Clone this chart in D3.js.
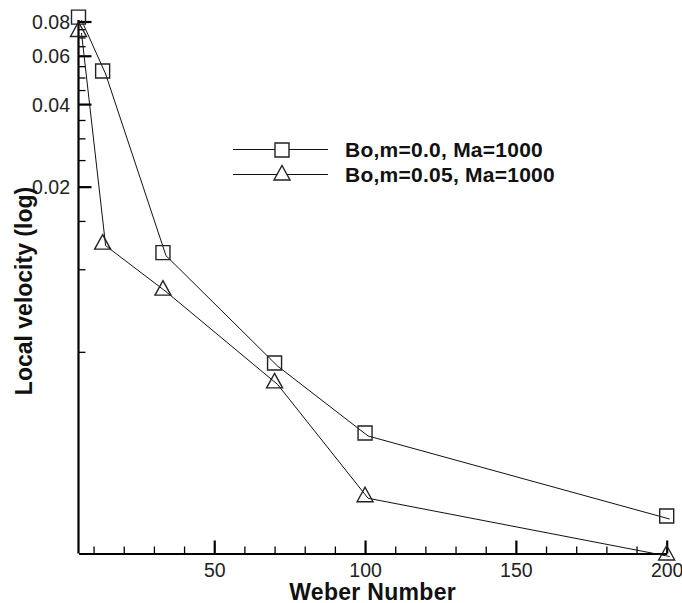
<!DOCTYPE html>
<html>
<head>
<meta charset="utf-8">
<script src="https://cdn.jsdelivr.net/npm/d3@7"></script>
<style>
  html, body { margin: 0; padding: 0; background: #fff; }
  svg { display: block; }
  text { font-family: "Liberation Sans", Arial, Helvetica, sans-serif; }
</style>
</head>
<body>
<svg id="chart" width="682" height="603"></svg>
<script>
// Weber number of each run
const weber = [5, 13, 33, 70, 100, 200];
// Local velocity for the two Bond-number cases
const velBo0 = [0.083, 0.0528, 0.0115, 0.00455, 0.00253, 0.00126];
const velBo005 = [0.0745, 0.0125, 0.0085, 0.0039, 0.0015, 0.00092];
const seriesNames = ["Bo,m=0.0, Ma=1000", "Bo,m=0.05, Ma=1000"];
const seriesShapes = ["square", "triangle"];

// Axis ticks
const xMajorTicks = [50, 100, 150, 200];
const xMinorTicks = [10, 20, 30, 40, 60, 70, 80, 90, 110, 120, 130, 140, 160, 170, 180, 190];
const yMajorTicks = [0.02, 0.04, 0.06, 0.08];
const yMinorTicks = [0.005, 0.01, 0.015, 0.025, 0.03, 0.035, 0.045, 0.05, 0.055, 0.065, 0.07, 0.075];

const xTitle = "Weber Number";
const yTitle = "Local velocity (log)";

const svg = d3.select("#chart");
svg.append("rect").attr("width", 682).attr("height", 603).attr("fill", "#fff");

const x = d3.scaleLinear().domain([5, 200]).range([78.5, 666.7]);
const y = d3.scaleLog().domain([0.00092, 0.08]).range([553.5, 21.5]);
const baseY = 553.5, baseX = 78.5;

const series = [
  { name: seriesNames[0], shape: seriesShapes[0], values: velBo0 },
  { name: seriesNames[1], shape: seriesShapes[1], values: velBo005 }
];

function markerPath(shape) {
  if (shape === "square") return "M-7,-7H7V7H-7Z";
  return "M0,-8L8,6.5H-8Z";
}

// ---- axes (ticks point inward) ----
const xMinor = svg.append("g").attr("transform", `translate(0,${baseY})`)
  .call(d3.axisBottom(x).tickValues(xMinorTicks).tickSize(-7).tickSizeOuter(0).tickFormat(""));
const xMajor = svg.append("g").attr("transform", `translate(0,${baseY})`)
  .call(d3.axisBottom(x).tickValues(xMajorTicks).tickSize(-13).tickSizeOuter(0).tickPadding(9.5).tickFormat(d3.format("d")));

const yMinor = svg.append("g").attr("transform", `translate(${baseX},0)`)
  .call(d3.axisLeft(y).tickValues(yMinorTicks).tickSize(-7).tickSizeOuter(0).tickFormat(""));
const yMajor = svg.append("g").attr("transform", `translate(${baseX},0)`)
  .call(d3.axisLeft(y).tickValues(yMajorTicks).tickSize(-13).tickSizeOuter(0).tickPadding(8.5).tickFormat(d3.format(".2f")));

[xMinor, yMinor].forEach(g => {
  g.select(".domain").remove();
  g.selectAll(".tick line").attr("stroke", "#000").attr("stroke-width", 1.3);
});
[xMajor, yMajor].forEach(g => {
  g.select(".domain").attr("stroke", "#000").attr("stroke-width", 2.2);
  g.selectAll(".tick line").attr("stroke", "#000").attr("stroke-width", 2.2);
  g.selectAll(".tick text").attr("fill", "#222").attr("font-size", "19.5px")
    .style("font-family", '"Liberation Sans", Arial, Helvetica, sans-serif');
});
yMajor.selectAll(".tick text").attr("dy", "0.36em");
yMajor.select(".domain").attr("d", `M0,${y(0.08) - 1.5}V${baseY}`);

// ---- data lines and symbols ----
const line = d3.line().x((d, i) => x(weber[i])).y(d => y(d));
const plot = svg.append("g");
series.forEach(s => {
  plot.append("path")
    .attr("d", line(s.values))
    .attr("transform", "translate(3,3)")
    .attr("fill", "none")
    .attr("stroke", "#111")
    .attr("stroke-width", 1);
  plot.selectAll(null).data(s.values).enter().append("path")
    .attr("d", markerPath(s.shape))
    .attr("transform", (d, i) => `translate(${x(weber[i])},${y(d)})`)
    .attr("fill", "none")
    .attr("stroke", "#222")
    .attr("stroke-width", 1.4);
});

// ---- legend ----
const legend = svg.append("g");
series.forEach((s, i) => {
  const ly = 149.5 + i * 25;
  legend.append("line").attr("x1", 233).attr("x2", 328).attr("y1", ly).attr("y2", ly)
    .attr("stroke", "#111").attr("stroke-width", 1);
  legend.append("path").attr("d", markerPath(s.shape))
    .attr("transform", `translate(282,${ly + (s.shape === "triangle" ? -1 : 0.5)})`)
    .attr("fill", "#fff").attr("stroke", "#222").attr("stroke-width", 1.4);
  legend.append("text").attr("x", 345).attr("y", ly + 7.3)
    .attr("font-size", "21px").attr("font-weight", "bold").attr("fill", "#111")
    .attr("letter-spacing", "0.25px")
    .text(s.name);
});

// ---- axis titles ----
svg.append("text")
  .attr("x", (x.range()[0] + x.range()[1]) / 2).attr("y", 599.5)
  .attr("text-anchor", "middle").attr("font-size", "23px").attr("font-weight", "bold")
  .attr("letter-spacing", "0.3px")
  .attr("fill", "#111").text(xTitle);
svg.append("text")
  .attr("transform", "translate(31.5,291) rotate(-90)")
  .attr("text-anchor", "middle").attr("font-size", "23px").attr("font-weight", "bold")
  .attr("fill", "#111").text(yTitle);
</script>
</body>
</html>
